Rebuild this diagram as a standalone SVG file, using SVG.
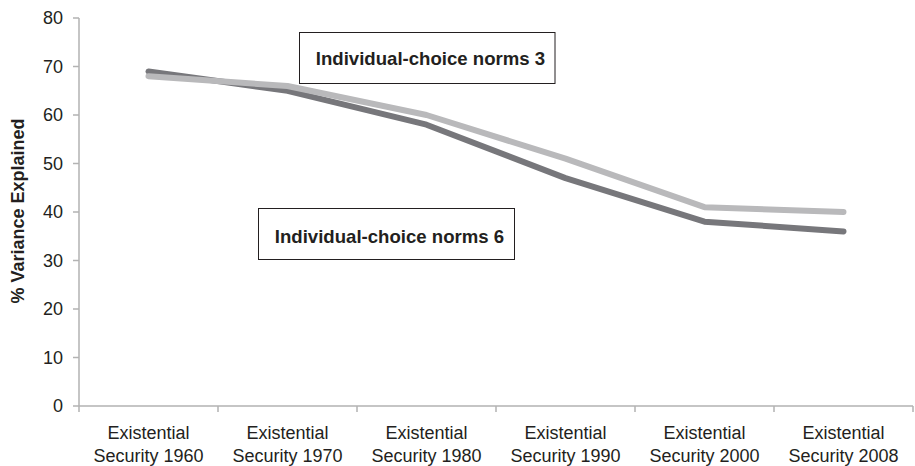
<svg xmlns="http://www.w3.org/2000/svg" width="915" height="466" viewBox="0 0 915 466">
<style>
text{font-family:"Liberation Sans",Arial,sans-serif;fill:#231f20}
.tick{font-size:18px;text-anchor:end}
.cat{font-size:18px;text-anchor:middle}
.lbl{font-size:18px;font-weight:bold;text-anchor:middle}
.blbl{font-size:18.6px;font-weight:bold;text-anchor:middle}
.ax{stroke:#b3b3b3;stroke-width:1.5;fill:none}
.ser{fill:none;stroke-width:6;stroke-linecap:round;stroke-linejoin:round}
.box{fill:#fff;stroke:#231f20;stroke-width:1}
</style>
<rect width="915" height="466" fill="#fff"/>
<g id="axes">
<path class="ax" d="M79 18V412M73 18H79M73 66.5H79M73 115H79M73 163.5H79M73 212H79M73 260.5H79M73 309H79M73 357.5H79M73 406H913M218 406V412M357 406V412M496 406V412M635 406V412M774 406V412M913 406V412M79 406V412"/>
<text class="tick" x="63" y="24.3">80</text>
<text class="tick" x="63" y="72.8">70</text>
<text class="tick" x="63" y="121.3">60</text>
<text class="tick" x="63" y="169.8">50</text>
<text class="tick" x="63" y="218.3">40</text>
<text class="tick" x="63" y="266.8">30</text>
<text class="tick" x="63" y="315.3">20</text>
<text class="tick" x="63" y="363.8">10</text>
<text class="tick" x="63" y="412.3">0</text>
<text class="lbl" transform="translate(24,211) rotate(-90)">% Variance Explained</text>
<text class="cat" x="148.5" y="438.5">Existential</text><text class="cat" x="148.5" y="461.5">Security 1960</text>
<text class="cat" x="287.5" y="438.5">Existential</text><text class="cat" x="287.5" y="461.5">Security 1970</text>
<text class="cat" x="426.5" y="438.5">Existential</text><text class="cat" x="426.5" y="461.5">Security 1980</text>
<text class="cat" x="565.5" y="438.5">Existential</text><text class="cat" x="565.5" y="461.5">Security 1990</text>
<text class="cat" x="704.5" y="438.5">Existential</text><text class="cat" x="704.5" y="461.5">Security 2000</text>
<text class="cat" x="843.5" y="438.5">Existential</text><text class="cat" x="843.5" y="461.5">Security 2008</text>
</g>
<g id="connectors">
<polyline class="ser" stroke="#77777b" points="148.5,71.4 287.5,90.8 426.5,124.7 565.5,178.1 704.5,221.7 843.5,231.4"/>
<polyline class="ser" stroke="#b9b9bb" points="148.5,76.2 287.5,86 426.5,115 565.5,158.7 704.5,207.2 843.5,212"/>
</g>
<g id="norms3">
<rect class="box" x="299.5" y="32.5" width="255.5" height="51"/>
<text class="blbl" x="430.5" y="64.5">Individual-choice norms 3</text>
</g>
<g id="norms6">
<rect class="box" x="258.5" y="208.5" width="256" height="51"/>
<text class="blbl" x="389.5" y="242.5">Individual-choice norms 6</text>
</g>
</svg>
